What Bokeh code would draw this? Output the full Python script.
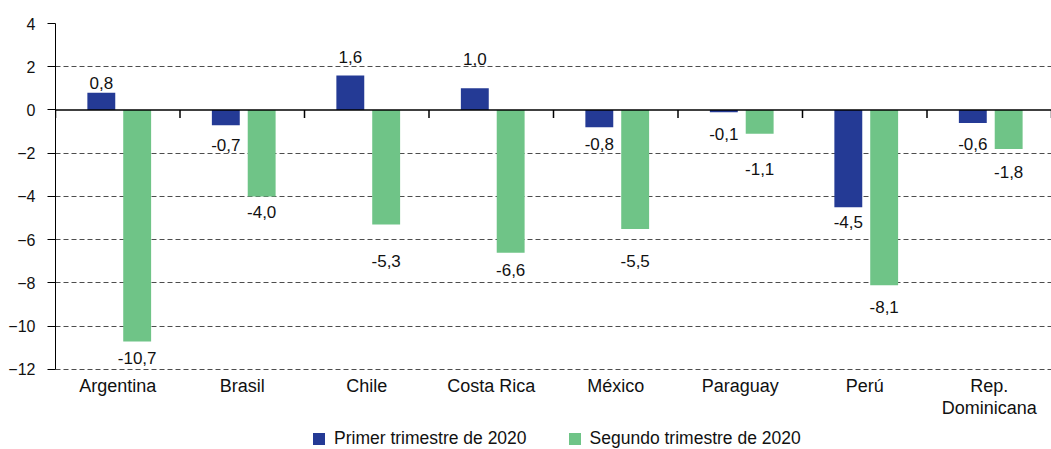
import numpy as np
from bokeh.plotting import figure
from bokeh.models import Range1d, FixedTicker, LinearAxis, Legend, LegendItem, ColumnDataSource, Span, Grid
from bokeh.core.properties import value
from bokeh.embed import file_html
from bokeh.resources import INLINE

# ---- data ----
countries = ["Argentina", "Brasil", "Chile", "Costa Rica", "México", "Paraguay", "Perú", "Rep.\nDominicana"]
primer = [0.8, -0.7, 1.6, 1.0, -0.8, -0.1, -4.5, -0.6]
segundo = [-10.7, -4.0, -5.3, -6.6, -5.5, -1.1, -8.1, -1.8]
y_ticks = [-12, -10, -8, -6, -4, -2, 0, 2, 4]
series_names = ["Primer trimestre de 2020", "Segundo trimestre de 2020"]

# label anchor heights (data units), as placed in the original
label_y_primer = [1.23, -1.64, 2.47, 2.38, -1.55, -1.13, -5.16, -1.55]
label_y_segundo = [-11.45, -4.74, -6.96, -7.42, -7.0, -2.71, -9.09, -2.89]

# ---- styling / layout ----
FONT = "Liberation Sans"
BLUE = "#243a95"
GREEN = "#6fc487"
OFF1, OFF2, BW = -0.132, 0.156, 0.224
TICK_LEN = 0.37     # category boundary tick length on zero line (data units)
Y_BOTTOM = -15.70   # extra room below the axis for category names and legend

n = len(countries)
centers = np.arange(n) + 0.5
bounds = np.arange(n + 1)
y_lo, y_hi = min(y_ticks), max(y_ticks)

fmt = lambda v: f"{v:.1f}".replace(".", ",")

src = ColumnDataSource(dict(
    x1=centers + OFF1, x2=centers + OFF2,
    primer=primer, segundo=segundo,
    ly1=label_y_primer, ly2=label_y_segundo,
    t1=[fmt(v) for v in primer], t2=[fmt(v) for v in segundo],
))
cat_src = ColumnDataSource(dict(x=centers, y=np.full(n, y_lo), name=countries))

p = figure(width=1051, height=449, output_backend="svg", toolbar_location=None,
           x_range=Range1d(0, n), y_range=Range1d(Y_BOTTOM, y_hi),
           min_border_left=55, min_border_right=0, min_border_top=23, min_border_bottom=0,
           x_axis_type=None, y_axis_type=None)
p.outline_line_color = None

# y axis
yax = LinearAxis(ticker=FixedTicker(ticks=y_ticks), bounds=(y_lo, y_hi))
yax.axis_line_color = "black"
yax.major_tick_line_color = "black"
yax.major_tick_out = 8
yax.major_tick_in = 0
yax.minor_tick_line_color = None
yax.major_label_standoff = 12
yax.major_label_text_font = FONT
yax.major_label_text_font_size = "16px"
yax.major_label_text_color = "#111111"
p.add_layout(yax, "left")

# grid
g = Grid(dimension=1, ticker=FixedTicker(ticks=[t for t in y_ticks if t != 0]))
g.grid_line_color = "#4d4d4d"
g.grid_line_dash = "5 3"
g.grid_line_width = 1
p.add_layout(g)

r1 = p.vbar(x="x1", top="primer", bottom=0, width=BW, source=src, fill_color=BLUE, line_color=None)
r2 = p.vbar(x="x2", top="segundo", bottom=0, width=BW, source=src, fill_color=GREEN, line_color=None)

# zero line and category boundary ticks
p.add_layout(Span(location=0, dimension="width", line_color="black", line_width=1.5))
p.segment(x0=bounds, y0=np.zeros(n + 1), x1=bounds, y1=np.full(n + 1, -TICK_LEN),
          line_color="black", line_width=1.5)

# value labels
for xc, yc, tc in (("x1", "ly1", "t1"), ("x2", "ly2", "t2")):
    p.text(x=xc, y=yc, text=tc, source=src, text_font=value(FONT), text_font_size="17px",
           text_align="center", text_baseline="middle", text_color="#111111")

# category names under the axis
p.text(x="x", y="y", text="name", source=cat_src, y_offset=7, text_font=value(FONT),
       text_font_size="18px", text_align="center", text_baseline="top",
       text_color="#111111", text_line_height=1.1)

legend = Legend(items=[LegendItem(label=series_names[0], renderers=[r1]),
                       LegendItem(label=series_names[1], renderers=[r2])],
                orientation="horizontal", location=(256, 0))
legend.glyph_width = 15
legend.glyph_height = 15
legend.label_height = 15
legend.label_standoff = 8
legend.spacing = 40
legend.padding = 2
legend.margin = 0
legend.border_line_color = None
legend.background_fill_alpha = 0
legend.label_text_font = FONT
legend.label_text_font_size = "17.5px"
legend.label_text_color = "#111111"
p.add_layout(legend)

open("out.html", "w").write(file_html(p, INLINE))
